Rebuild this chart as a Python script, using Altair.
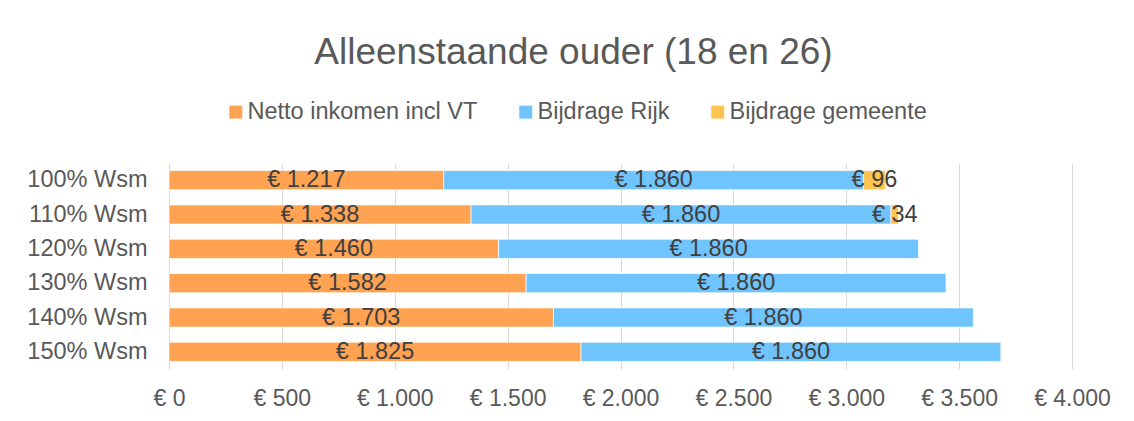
import altair as alt
import pandas as pd

categories = ["100% Wsm", "110% Wsm", "120% Wsm", "130% Wsm", "140% Wsm", "150% Wsm"]
netto = [1217, 1338, 1460, 1582, 1703, 1825]
rijk = [1860, 1860, 1860, 1860, 1860, 1860]
gemeente = [96, 34, 0, 0, 0, 0]
series_names = ["Netto inkomen incl VT", "Bijdrage Rijk", "Bijdrage gemeente"]
series_colors = ["#FFA252", "#70C4FE", "#FFC34F"]
x_ticks = [0, 500, 1000, 1500, 2000, 2500, 3000, 3500, 4000]
title_text = "Alleenstaande ouder (18 en 26)"

FONT = "Liberation Sans"

rows = []
for i, cat in enumerate(categories):
    for j, (name, vals) in enumerate(zip(series_names, [netto, rijk, gemeente])):
        v = vals[i]
        if v == 0:
            continue
        rows.append({
            "cat": cat,
            "series": name,
            "value": v,
            "order": j,
            "label": "€ " + f"{v:,}".replace(",", "."),
        })
df = pd.DataFrame(rows)

base = alt.Chart(df).transform_stack(
    stack="value", groupby=["cat"], as_=["start", "end"],
    sort=[alt.SortField("order", order="ascending")]
).transform_calculate(mid="(datum.start + datum.end) / 2")

y_enc = alt.Y("cat:N", sort=categories, title=None,
              scale=alt.Scale(paddingInner=0.44, paddingOuter=0.22),
              axis=alt.Axis(labelFontSize=23.5, labelColor="#595959", labelFont=FONT,
                            labelPadding=22, ticks=False, domain=False, grid=False))

bars = base.mark_bar(stroke="white", strokeWidth=0.7).encode(
    x=alt.X("start:Q", title=None,
            scale=alt.Scale(domain=[0, 4000], nice=False),
            axis=alt.Axis(values=x_ticks, grid=True, gridColor="#d9d9d9", gridWidth=1,
                          ticks=False, domain=False, labelFontSize=23, labelColor="#595959",
                          labelFont=FONT, labelPadding=18, labelOverlap=False,
                          labelFlush=False, labelBound=False,
                          labelExpr="'€ ' + replace(format(datum.value, ','), ',', '.')")),
    x2="end:Q",
    y=y_enc,
    color=alt.Color("series:N",
                    scale=alt.Scale(domain=series_names, range=series_colors),
                    legend=alt.Legend(title=None, orient="none", legendX=55, legendY=-63,
                                      direction="horizontal", symbolType="square",
                                      symbolSize=169, symbolStrokeWidth=0,
                                      labelFontSize=23.5, labelColor="#595959", labelFont=FONT,
                                      labelOffset=0, columnPadding=36, padding=0,
                                      labelLimit=500)),
)

texts = base.mark_text(fontSize=23.5, color="#404040", font=FONT,
                       align="center", baseline="middle").encode(
    x="mid:Q",
    y=alt.Y("cat:N", sort=categories),
    text="label:N",
)

chart = alt.layer(bars, texts).properties(
    width=903, height=206,
    title=alt.Title(title_text, fontSize=37, font=FONT, color="#595959", fontWeight="normal",
                    anchor="middle", dx=-47, offset=28),
    autosize=alt.AutoSizeParams(type="none"),
    padding={"left": 161, "top": 155, "right": 50, "bottom": 45},
).configure_view(stroke=None)

chart.save("out.html", embed_options={"renderer": "svg", "actions": False})
